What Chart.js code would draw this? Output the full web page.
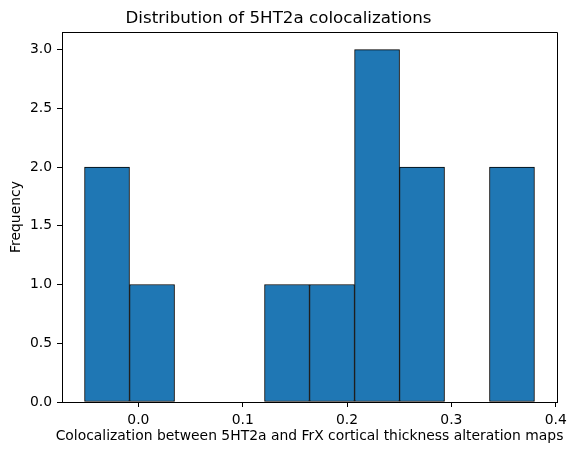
<!DOCTYPE html>
<html>
<head>
<meta charset="utf-8">
<script src="https://cdn.jsdelivr.net/npm/chart.js@4/dist/chart.umd.min.js"></script>
<style>
  html, body { margin: 0; padding: 0; background: #fff; }
  canvas { display: block; }
</style>
</head>
<body>
<canvas id="histChart" width="578" height="455"></canvas>
<script>
// Histogram bin edges and counts per bin
const binEdges = [-0.0516, -0.0085, 0.0347, 0.0778, 0.1209, 0.1640, 0.2072, 0.2503, 0.2934, 0.3365, 0.3796];
const binCounts = [2, 1, 0, 0, 1, 1, 3, 2, 0, 2];

// Tick labels
const xTicks = [0.0, 0.1, 0.2, 0.3, 0.4];
const yTicks = [0.0, 0.5, 1.0, 1.5, 2.0, 2.5, 3.0];

const titleText = 'Distribution of 5HT2a colocalizations';
const xLabel = 'Colocalization between 5HT2a and FrX cortical thickness alteration maps';
const yLabel = 'Frequency';

Chart.defaults.font.family = "'DejaVu Sans', sans-serif";
Chart.defaults.color = '#000';

// bar centres from the edges
const barData = binCounts.map((count, i) => ({
    x: (binEdges[i] + binEdges[i + 1]) / 2,
    y: count || null
}));

// top and right spines, plus the x label (wider than the plot, so the
// scale title would squeeze it)
const frame = {
    id: 'frame',
    afterDraw(chart) {
        const { ctx, chartArea } = chart;
        ctx.save();
        ctx.strokeStyle = '#000';
        ctx.lineWidth = 1;
        ctx.beginPath();
        ctx.moveTo(Math.round(chartArea.left) + 0.5, Math.round(chartArea.top) + 0.5);
        ctx.lineTo(Math.round(chartArea.right) + 0.5, Math.round(chartArea.top) + 0.5);
        ctx.lineTo(Math.round(chartArea.right) + 0.5, Math.round(chartArea.bottom) + 0.5);
        ctx.stroke();

        ctx.fillStyle = '#000';
        ctx.font = "13.9px 'DejaVu Sans', sans-serif";
        ctx.textAlign = 'center';
        ctx.textBaseline = 'middle';
        ctx.fillText(xLabel, (chartArea.left + chartArea.right) / 2, chartArea.bottom + 34.5);
        ctx.restore();
    }
};

new Chart(document.getElementById('histChart'), {
    type: 'bar',
    data: {
        datasets: [{
            data: barData,
            backgroundColor: '#1f77b4',
            borderColor: '#000',
            borderWidth: 1,
            borderSkipped: false,
            barPercentage: 1,
            categoryPercentage: 1
        }]
    },
    options: {
        responsive: false,
        animation: false,
        layout: { padding: { left: 0, right: 21, top: 0, bottom: 0 } },
        plugins: {
            legend: { display: false },
            tooltip: { enabled: false },
            title: {
                display: true,
                text: titleText,
                font: { size: 16.7, weight: 'normal' },
                padding: { top: 8.2, bottom: 3.76 }
            }
        },
        scales: {
            x: {
                type: 'linear',
                offset: false,
                min: -0.0732,
                max: 0.4012,
                afterFit: scale => { scale.height = 53; },
                afterBuildTicks: scale => { scale.ticks = xTicks.map(v => ({ value: v })); },
                grid: { offset: false, drawOnChartArea: false, drawTicks: true, tickLength: 5, color: '#000' },
                border: { display: true, color: '#000', width: 1 },
                ticks: {
                    font: { size: 13.9 },
                    padding: 5,
                    autoSkip: false,
                    maxRotation: 0,
                    callback: v => v.toFixed(1)
                }
            },
            y: {
                min: 0,
                max: 3.15,
                afterFit: scale => { scale.width = 62; },
                afterBuildTicks: scale => { scale.ticks = yTicks.map(v => ({ value: v })); },
                grid: { offset: false, drawOnChartArea: false, drawTicks: true, tickLength: 5, color: '#000' },
                border: { display: true, color: '#000', width: 1 },
                ticks: {
                    font: { size: 13.9 },
                    padding: 5,
                    autoSkip: false,
                    callback: v => v.toFixed(1)
                },
                title: {
                    display: true,
                    text: yLabel,
                    font: { size: 13.9 },
                    padding: { top: 8, bottom: 0 }
                }
            }
        }
    },
    plugins: [frame]
});
</script>
</body>
</html>
